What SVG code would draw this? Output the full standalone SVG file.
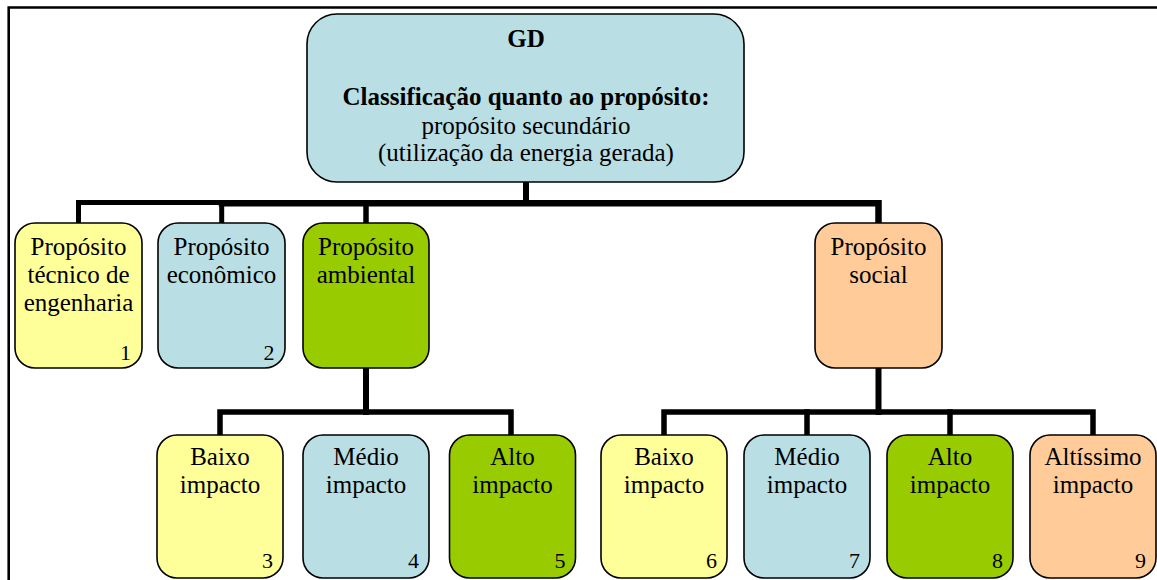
<svg xmlns="http://www.w3.org/2000/svg" width="1157" height="580" viewBox="0 0 1157 580">
<style>
.n{stroke:#000;stroke-width:1.6}
.y{fill:#FFFF99}.b{fill:#B9DEE3}.g{fill:#99CC00}.o{fill:#FFCC99}
text{font-family:"Liberation Serif","Times New Roman",serif;fill:#000}
.t{font-size:25px;text-anchor:middle}
.bd{font-weight:bold}
.num{font-size:22px;text-anchor:end}
.c{fill:none;stroke:#000;stroke-linecap:square}
</style>
<rect x="0" y="0" width="1157" height="580" fill="#fff"/>
<g id="frame"><path d="M8.7 580V7.5H1157" fill="none" stroke="#000" stroke-width="2.6"/></g>
<g id="connectors">
<path class="c" d="M526 182V203" stroke-width="6"/>
<path class="c" d="M78.5 223V202.5H222" stroke-width="5"/>
<path class="c" d="M222 203.3H878.5V223" stroke-width="6.5"/>
<path class="c" d="M221.7 204V223" stroke-width="5"/>
<path class="c" d="M366 204V223" stroke-width="5.5"/>
<path class="c" d="M366 368V412" stroke-width="6"/>
<path class="c" d="M220 433V412H511V433" stroke-width="5.5"/>
<path class="c" d="M878.5 368V412" stroke-width="6"/>
<path class="c" d="M664 433V412H1093V433" stroke-width="5.5"/>
<path class="c" d="M807 412V433" stroke-width="5.5"/>
<path class="c" d="M950 412V433" stroke-width="5.5"/>
</g>
<g id="gd">
<rect class="n b" x="307" y="14" width="437" height="168" rx="30"/>
<text class="t bd" x="526" y="47">GD</text>
<text class="t bd" x="526" y="105">Classificação quanto ao propósito:</text>
<text class="t" x="526" y="134">propósito secundário</text>
<text class="t" x="526" y="161">(utilização da energia gerada)</text>
</g>
<g id="p1">
<rect class="n y" x="15" y="223" width="127" height="145" rx="20"/>
<text class="t" x="78.5" y="255">Propósito</text>
<text class="t" x="78.5" y="283">técnico de</text>
<text class="t" x="78.5" y="311">engenharia</text>
<text class="num" x="131" y="360">1</text>
</g>
<g id="p2">
<rect class="n b" x="158" y="223" width="127" height="145" rx="20"/>
<text class="t" x="221.5" y="255">Propósito</text>
<text class="t" x="221.5" y="283">econômico</text>
<text class="num" x="274.5" y="360">2</text>
</g>
<g id="p3">
<rect class="n g" x="303" y="223" width="126" height="145" rx="20"/>
<text class="t" x="366" y="255">Propósito</text>
<text class="t" x="366" y="283">ambiental</text>
</g>
<g id="p4">
<rect class="n o" x="815" y="223" width="127" height="145" rx="20"/>
<text class="t" x="878.5" y="255">Propósito</text>
<text class="t" x="878.5" y="283">social</text>
</g>
<g id="n3">
<rect class="n y" x="157" y="435" width="126" height="143" rx="20"/>
<text class="t" x="220" y="465">Baixo</text>
<text class="t" x="220" y="493">impacto</text>
<text class="num" x="273" y="568">3</text>
</g>
<g id="n4">
<rect class="n b" x="303" y="435" width="126" height="143" rx="20"/>
<text class="t" x="366" y="465">Médio</text>
<text class="t" x="366" y="493">impacto</text>
<text class="num" x="419" y="568">4</text>
</g>
<g id="n5">
<rect class="n g" x="449.5" y="435" width="126" height="143" rx="20"/>
<text class="t" x="512.5" y="465">Alto</text>
<text class="t" x="512.5" y="493">impacto</text>
<text class="num" x="565.5" y="568">5</text>
</g>
<g id="n6">
<rect class="n y" x="601" y="435" width="126" height="143" rx="20"/>
<text class="t" x="664" y="465">Baixo</text>
<text class="t" x="664" y="493">impacto</text>
<text class="num" x="717" y="568">6</text>
</g>
<g id="n7">
<rect class="n b" x="744" y="435" width="126" height="143" rx="20"/>
<text class="t" x="807" y="465">Médio</text>
<text class="t" x="807" y="493">impacto</text>
<text class="num" x="860" y="568">7</text>
</g>
<g id="n8">
<rect class="n g" x="887" y="435" width="126" height="143" rx="20"/>
<text class="t" x="950" y="465">Alto</text>
<text class="t" x="950" y="493">impacto</text>
<text class="num" x="1003" y="568">8</text>
</g>
<g id="n9">
<rect class="n o" x="1030" y="435" width="126" height="143" rx="20"/>
<text class="t" x="1093" y="465">Altíssimo</text>
<text class="t" x="1093" y="493">impacto</text>
<text class="num" x="1146" y="568">9</text>
</g>
</svg>
